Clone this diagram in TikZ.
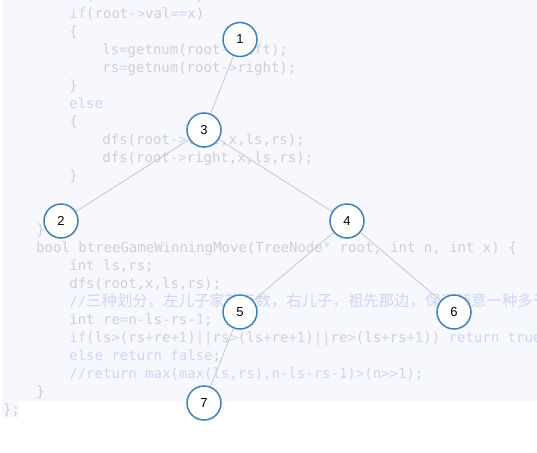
\documentclass[tikz,border=0pt]{standalone}
\usepackage{fontspec}
\setmainfont{Liberation Sans}
\newfontfamily\codefont{DejaVu Sans Mono}
\newfontfamily\cjkfont{Noto Sans CJK SC}
\definecolor{bgc}{RGB}{247,248,254}
\definecolor{codegray}{RGB}{208,208,208}
\definecolor{kwc}{RGB}{204,214,246}
\definecolor{edgec}{RGB}{200,200,200}
\definecolor{ringc}{RGB}{70,128,180}
\newcommand\kw[1]{\textcolor{kwc}{#1}}
\pgfdeclarelayer{bglayer}
\pgfdeclarelayer{edgelayer}
\pgfsetlayers{bglayer,edgelayer,main}
\tikzset{
  codeline/.style={anchor=base west, inner sep=0pt, text=codegray,
    font=\codefont\fontsize{14pt}{16pt}\selectfont},
  treenode/.style={circle, draw=ringc, line width=1.5pt, fill=white,
    minimum size=34pt, inner sep=0pt, text=black,
    font=\fontsize{13pt}{15pt}\selectfont},
  treeedge/.style={draw=edgec, line width=0.8pt}
}
\newcommand\cx[1]{\fpeval{3+8.27*(#1)}}
\newcommand\cy[1]{\fpeval{14+18*(#1-1)+4.5}}
\begin{document}
\begin{tikzpicture}[x=1pt,y=-1pt]
\useasboundingbox (0,0) rectangle (537,452);
\begin{pgfonlayer}{bglayer}
\fill[white] (0,0) rectangle (537,452);
\fill[bgc] (2,0) rectangle (537,401);
\fill[bgc] (2,401) rectangle (19,418);
\node[codeline] (l0) at (\cx{8},\cy{0}) {\kw{if}(root \kw{==} NULL)};
\node[codeline] (l1) at (\cx{8},\cy{1}) {\kw{if}(root\kw{->}val\kw{==}x)};
\node[codeline] (l2) at (\cx{8},\cy{2}) {\{};
\node[codeline] (l3) at (\cx{12},\cy{3}) {ls\kw{=}getnum(root\kw{->}left);};
\node[codeline] (l4) at (\cx{12},\cy{4}) {rs\kw{=}getnum(root\kw{->}right);};
\node[codeline] (l5) at (\cx{8},\cy{5}) {\}};
\node[codeline] (l6) at (\cx{8},\cy{6}) {\kw{else}};
\node[codeline] (l7) at (\cx{8},\cy{7}) {\{};
\node[codeline] (l8) at (\cx{12},\cy{8}) {dfs(root\kw{->}left,x,ls,rs);};
\node[codeline] (l9) at (\cx{12},\cy{9}) {dfs(root\kw{->}right,x,ls,rs);};
\node[codeline] (l10) at (\cx{8},\cy{10}) {\}};
\node[codeline] (l13) at (\cx{4},\cy{13}) {\}};
\node[codeline] (l14) at (\cx{4},\cy{14}) {bool btreeGameWinningMove(TreeNode\kw{*} root, int n, int x) \{};
\node[codeline] (l15) at (\cx{8},\cy{15}) {int ls,rs;};
\node[codeline] (l16) at (\cx{8},\cy{16}) {dfs(root,x,ls,rs);};
\node[codeline] (l17) at (\cx{8},\cy{17}) {\kw{//{\cjkfont\fontsize{15.4pt}{16pt}\selectfont 三种划分，左儿子家节点数，右儿子，祖先那边，保证随意一种多于一半}}};
\node[codeline] (l18) at (\cx{8},\cy{18}) {int re\kw{=}n\kw{-}ls\kw{-}rs\kw{-1};};
\node[codeline] (l19) at (\cx{8},\cy{19}) {\kw{if}(ls\kw{>}(rs\kw{+}re\kw{+1})\kw{||}rs\kw{>}(ls\kw{+}re\kw{+1})\kw{||}re\kw{>}(ls\kw{+}rs\kw{+1})) \kw{return true;}};
\node[codeline] (l20) at (\cx{8},\cy{20}) {\kw{else return false};};
\node[codeline] (l21) at (\cx{8},\cy{21}) {\kw{//return max(max(ls,rs),n-ls-rs-1)>(n>>1);}};
\node[codeline] (l22) at (\cx{4},\cy{22}) {\}};
\node[codeline] (l23) at (\cx{0},\cy{23}) {\};};
\end{pgfonlayer}
\node[treenode] (n1) at (240,39.5) {1};
\node[treenode] (n3) at (204,130) {3};
\node[treenode] (n2) at (61,221) {2};
\node[treenode] (n4) at (347,221) {4};
\node[treenode] (n5) at (240,312) {5};
\node[treenode] (n6) at (454,312) {6};
\node[treenode] (n7) at (204,403) {7};
\begin{pgfonlayer}{edgelayer}
\draw[treeedge] (n1) -- (n3);
\draw[treeedge] (n3) -- (n2);
\draw[treeedge] (n3) -- (n4);
\draw[treeedge] (n4) -- (n5);
\draw[treeedge] (n4) -- (n6);
\draw[treeedge] (n5) -- (n7);
\end{pgfonlayer}
\end{tikzpicture}
\end{document}
